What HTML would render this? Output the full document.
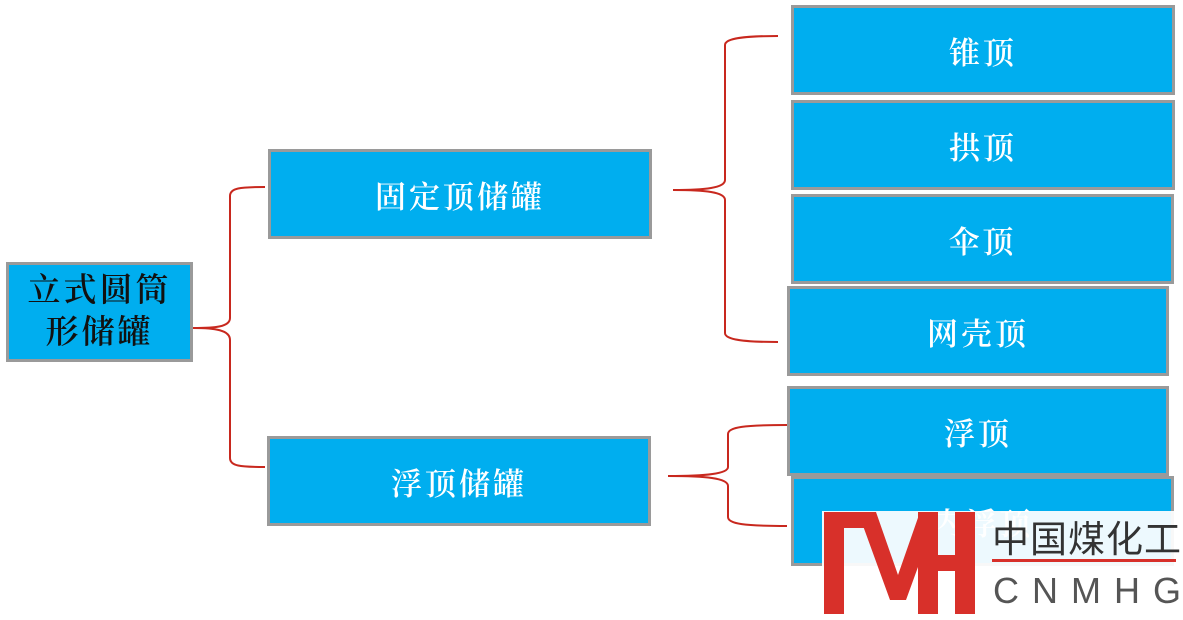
<!DOCTYPE html>
<html><head><meta charset="utf-8"><style>
body{margin:0;width:1183px;height:620px;background:#fff;position:relative;overflow:hidden;font-family:"Liberation Serif","Noto Serif CJK SC",serif}
.b{position:absolute;box-sizing:border-box;background:#00aeef;border:3px solid #9a9a9a;color:#fff;font-size:31px;font-weight:600;display:flex;align-items:center;justify-content:center;letter-spacing:3px}
</style></head><body>
<svg width="1183" height="620" style="position:absolute;left:0;top:0" fill="none" stroke="#c8281e" stroke-width="2">
<path d="M193 328 C215 328 230 327 230 318 L230 196 C230 188 240 187 265 187"/>
<path d="M193 328 C215 328 230 330 230 340 L230 458 C230 466 240 467 265 467"/>
<path d="M673 190 C705 190 725 188 725 180 L725 45 C725 38 745 36 778 36"/>
<path d="M673 190 C705 190 725 192 725 200 L725 333 C725 340 745 342 778 342"/>
<path d="M668 476 C705 476 728 474 728 467 L728 434 C728 427 745 425 787 425"/>
<path d="M668 476 C705 476 728 478 728 486 L728 517 C728 524 745 526 787 526"/>
</svg>
<div class="b" style="left:6px;top:262px;width:187px;height:100px;color:#111;font-size:33px;line-height:42px;text-align:center">立式圆筒<br>形储罐</div>
<div class="b" style="left:268px;top:149px;width:384px;height:90px">固定顶储罐</div>
<div class="b" style="left:267px;top:436px;width:384px;height:90px">浮顶储罐</div>
<div class="b" style="left:791px;top:5px;width:384px;height:90px">锥顶</div>
<div class="b" style="left:791px;top:100px;width:384px;height:90px">拱顶</div>
<div class="b" style="left:791px;top:194px;width:383px;height:90px">伞顶</div>
<div class="b" style="left:787px;top:286px;width:382px;height:90px">网壳顶</div>
<div class="b" style="left:787px;top:386px;width:382px;height:90px">浮顶</div>
<div class="b" style="left:791px;top:476px;width:383px;height:90px;align-items:flex-start;padding-top:20px">内浮顶</div>
<div style="position:absolute;left:822px;top:511px;width:361px;height:109px;background:rgba(255,255,255,0.93)"></div>
<svg width="1183" height="620" style="position:absolute;left:0;top:0">
<g fill="#d8302a">
<rect x="824" y="512" width="20" height="102"/>
<rect x="824" y="512" width="50" height="16"/>
<polygon points="858,512 876,512 898,575 920,512 938,512 906,600 890,600"/>
<rect x="918" y="512" width="20" height="102"/>
<rect x="918" y="555" width="55" height="16"/>
<rect x="955" y="512" width="20" height="102"/>
<rect x="992" y="559" width="184" height="3"/>
</g>
<text x="992" y="552" font-family="Noto Sans CJK SC, sans-serif" font-size="37" fill="#333" letter-spacing="1">中国煤化工</text>
<text x="993" y="603" font-family="Liberation Sans, sans-serif" font-size="36" fill="#555" letter-spacing="13">CNMHG</text>
</svg>
</body></html>
